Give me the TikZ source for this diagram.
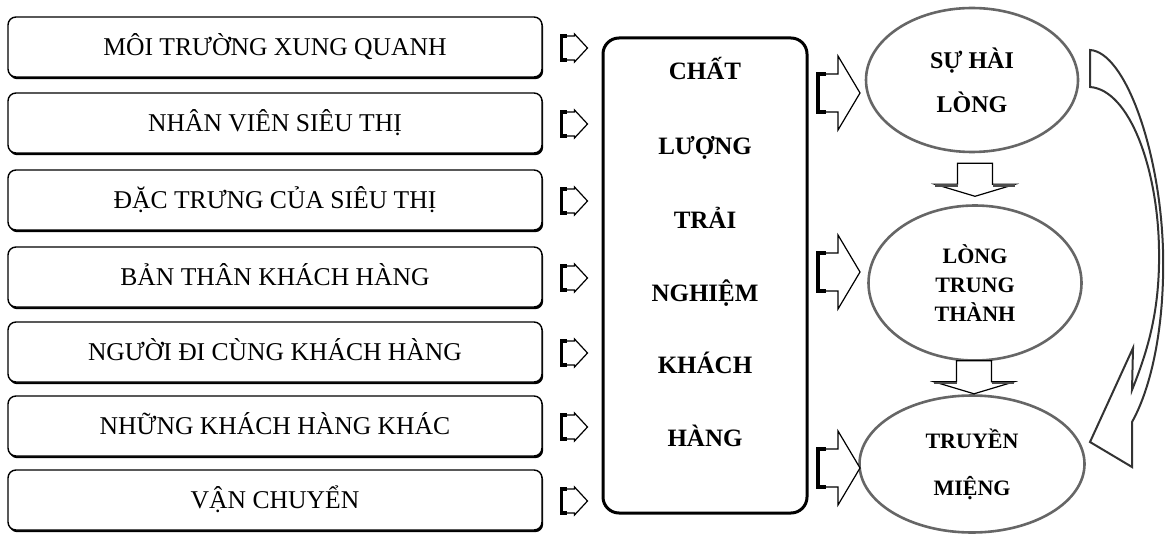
\documentclass[tikz,border=0pt]{standalone}
\usepackage{fontspec}
\setmainfont{Liberation Serif}
\usetikzlibrary{shapes.geometric,shadows,calc}
\begin{document}
\begin{tikzpicture}[x=0.5pt,y=-0.5pt,
  lbox/.style={draw, line width=0.7pt, rounded corners=4pt, fill=white,
    minimum width=267pt, minimum height=30pt, inner sep=0pt,
    font=\fontsize{12.8}{14}\selectfont, text height=8.4pt, text depth=0pt,
    drop shadow={shadow xshift=0.6pt, shadow yshift=-1.1pt, fill=black, opacity=1}},
  cbox/.style={draw, line width=1.5pt, rounded corners=8pt,
    minimum width=102pt, minimum height=237.5pt, inner sep=0pt},
  ctext/.style={font=\bfseries\fontsize{12.5}{14}\selectfont, anchor=base, inner sep=0pt},
  ell/.style={draw=black!60, line width=1.3pt, ellipse, inner sep=0pt, align=center},
  blk/.style={draw, line width=0.6pt, fill=white, line join=miter},
  blkedge/.style={draw, line width=1.6pt, line cap=butt},
  curv/.style={draw=black!80, line width=1pt, fill=white, line join=miter}
]
\useasboundingbox (0,0) rectangle (1166,534);

% left boxes
\node[lbox] (b1) at (275,47)  {MÔI TRƯỜNG XUNG QUANH};
\node[lbox] (b2) at (275,123) {NHÂN VIÊN SIÊU THỊ};
\node[lbox] (b3) at (275,200) {ĐẶC TRƯNG CỦA SIÊU THỊ};
\node[lbox] (b4) at (275,277) {BẢN THÂN KHÁCH HÀNG};
\node[lbox] (b5) at (275,352) {NGƯỜI ĐI CÙNG KHÁCH HÀNG};
\node[lbox] (b6) at (275,426) {NHỮNG KHÁCH HÀNG KHÁC};
\node[lbox] (b7) at (275,500) {VẬN CHUYỂN};

% central box
\node[cbox] (q) at (705,275.5) {};
\node[ctext] (t1) at (705,80)  {CHẤT};
\node[ctext] (t2) at (705,155) {LƯỢNG};
\node[ctext] (t3) at (705,228) {TRẢI};
\node[ctext] (t4) at (705,301) {NGHIỆM};
\node[ctext] (t5) at (705,373) {KHÁCH};
\node[ctext] (t6) at (705,446) {HÀNG};

% ellipses
\node[ell, minimum width=106pt, minimum height=72pt,
  font=\bfseries\fontsize{12}{22}\selectfont] (e1) at (972,80) {SỰ HÀI\\LÒNG};
\node[ell, minimum width=106.5pt, minimum height=77.5pt,
  font=\bfseries\fontsize{11}{14.5}\selectfont] (e2) at (975,283) {LÒNG\\TRUNG\\THÀNH};
\node[ell, minimum width=112.5pt, minimum height=68.5pt,
  font=\bfseries\fontsize{11}{23.5}\selectfont] (e3) at (972,464) {TRUYỀN\\MIỆNG};

% small block arrows from left boxes to central box
\foreach \i in {1,...,7}{
  \coordinate (sa\i) at ($(b\i.east -| q.west)+(-14,1)$);
  \begin{scope}[shift={(sa\i)}]
    \draw[blk] (-26,-12) -- (-13,-12) -- (-13,-14) -- (0,0) -- (-13,14) -- (-13,12) -- (-26,12) -- cycle;
    \draw[blkedge] (-21,-12) -- (-26,-12) -- (-26,12) -- (-21,12);
  \end{scope}
}

% big block arrows into ellipses
\coordinate (ba1) at (860,93);
\coordinate (ba2) at (860,272);
\coordinate (ba3) at (860,468);
\foreach \i in {1,2,3}{
  \begin{scope}[shift={(ba\i)}]
    \draw[blk] (-42,-19) -- (-22,-19) -- (-22,-37) -- (0,0) -- (-22,37) -- (-22,19) -- (-42,19) -- cycle;
    \draw[blkedge] (-34,-19) -- (-42,-19) -- (-42,19) -- (-34,19);
  \end{scope}
}

% down block arrows between ellipses
\coordinate (da1) at ($(e1.south)+(3,43)$);
\coordinate (da2) at ($(e2.south)+(-1,32)$);
\foreach \i in {1,2}{
  \begin{scope}[shift={(da\i)}]
    \draw[blk] (-17.5,-33) -- (17.5,-33) -- (17.5,-12) -- (40,-12) -- (0,0) -- (-40,-12) -- (-17.5,-12) -- cycle;
    \draw[line width=1.3pt, draw=black!70] (-40,-11) -- (-17.5,-11);
    \draw[line width=1.3pt, draw=black!70] (17.5,-11) -- (40,-11);
  \end{scope}
}

% curved block arrow from SU HAI LONG to TRUYEN MIENG
\draw[curv] (1090,87) -- (1090,50)
  .. controls (1125,52) and (1160,150) .. (1163,250)
  .. controls (1165,330) and (1150,390) .. (1132,422)
  -- (1132,467) -- (1090,442) -- (1133,348) -- (1132,390)
  .. controls (1148,350) and (1160,310) .. (1159,250)
  .. controls (1158,170) and (1130,90) .. (1090,87) -- cycle;
\end{tikzpicture}
\end{document}
